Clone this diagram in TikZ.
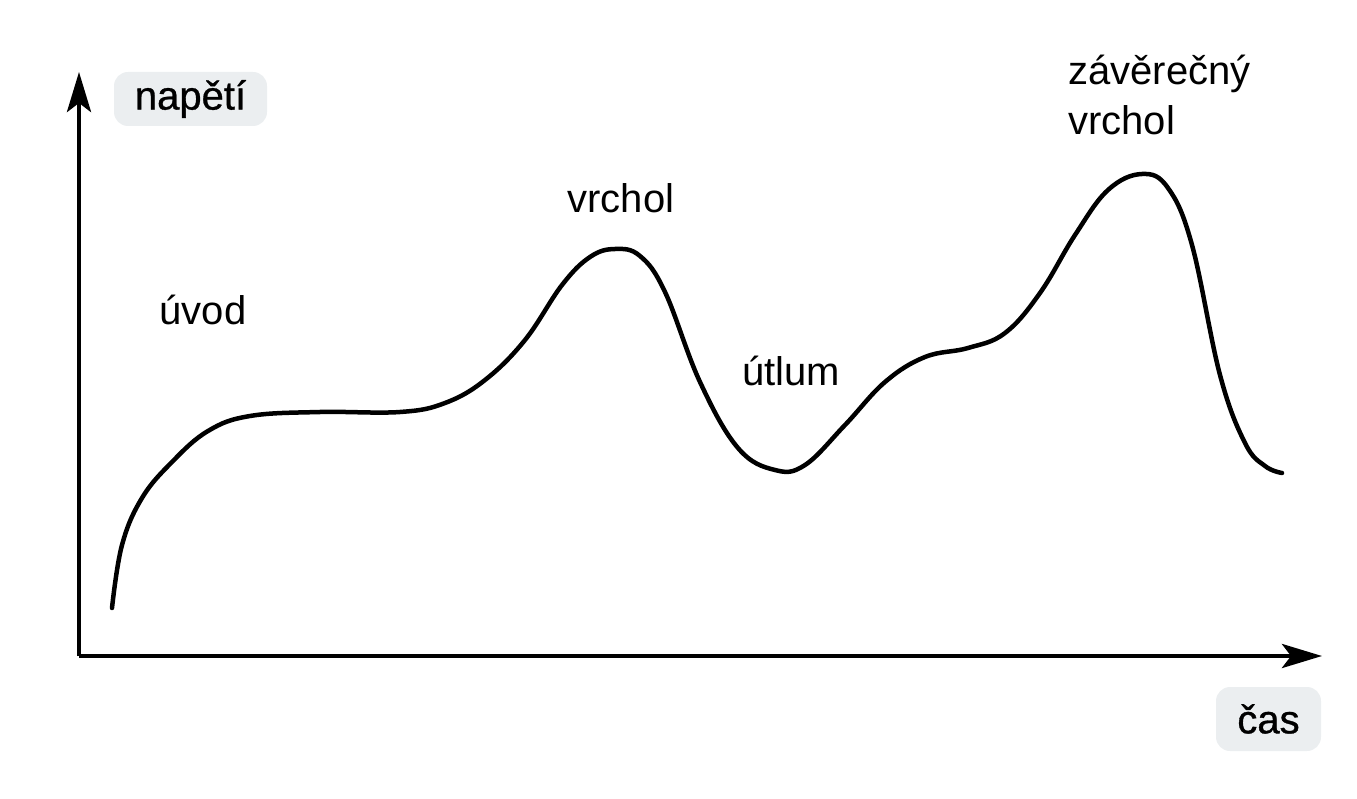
\documentclass[tikz,border=0pt]{standalone}
\usepackage{fontspec}
\setmainfont{Liberation Sans}
\newfontfamily\medfont[FakeBold=0.8]{Liberation Sans}
\usetikzlibrary{arrows.meta}
\definecolor{boxgray}{HTML}{EBEEF0}
\tikzset{
  axis/.style={line width=4.5pt,-{Stealth[length=40pt,width=24pt,inset=9pt]}},
  curveline/.style={line width=4.5pt,line cap=round,line join=round},
  lbl/.style={font=\fontsize{40}{48}\selectfont,inner sep=0pt},
  axlbl/.style={font=\medfont\fontsize{40}{48}\selectfont,fill=boxgray,rounded corners=14pt,inner sep=0pt,minimum height=54pt},
}
\begin{document}
\begin{tikzpicture}[x=1pt,y=-1pt]
\useasboundingbox (0,0) rectangle (1357,799);
\coordinate (O) at (79,656);
\coordinate (ytip) at (79,72);
\coordinate (xtip) at (1322,656);
\draw[axis] (O) -- (ytip);
\draw[axis] (O) -- (xtip);
\node[axlbl,minimum width=153pt] (nap) at (190.5,99) {napětí};
\node[axlbl,minimum width=105pt,minimum height=64pt] (cas) at (1268.5,719) {čas};
\draw[curveline] plot[smooth,tension=0.65] coordinates {
(112,608) (122,545) (142,498) (172,462) (208,431) (250,416) (320,412) (400,412) (445,403) (485,380) (525,340) (562,285) (590,257) (615,249) (640,256) (665,292) (700,382) (738,448) (775,470) (805,465) (845,425) (885,382) (925,357) (968,348) (1005,333) (1040,293) (1075,235) (1108,190) (1142,174) (1168,188) (1192,245) (1220,375) (1245,443) (1265,466) (1282,473)};
\node[lbl] (uvod) at (203,310) {úvod};
\node[lbl] (vrchol) at (621,198) {vrchol};
\node[lbl] (utlum) at (791,371) {útlum};
\node[lbl,align=left,anchor=north west,font=\fontsize{40}{50}\selectfont] (zav) at (1068,55) {závěrečný\\vrchol};
\end{tikzpicture}
\end{document}
